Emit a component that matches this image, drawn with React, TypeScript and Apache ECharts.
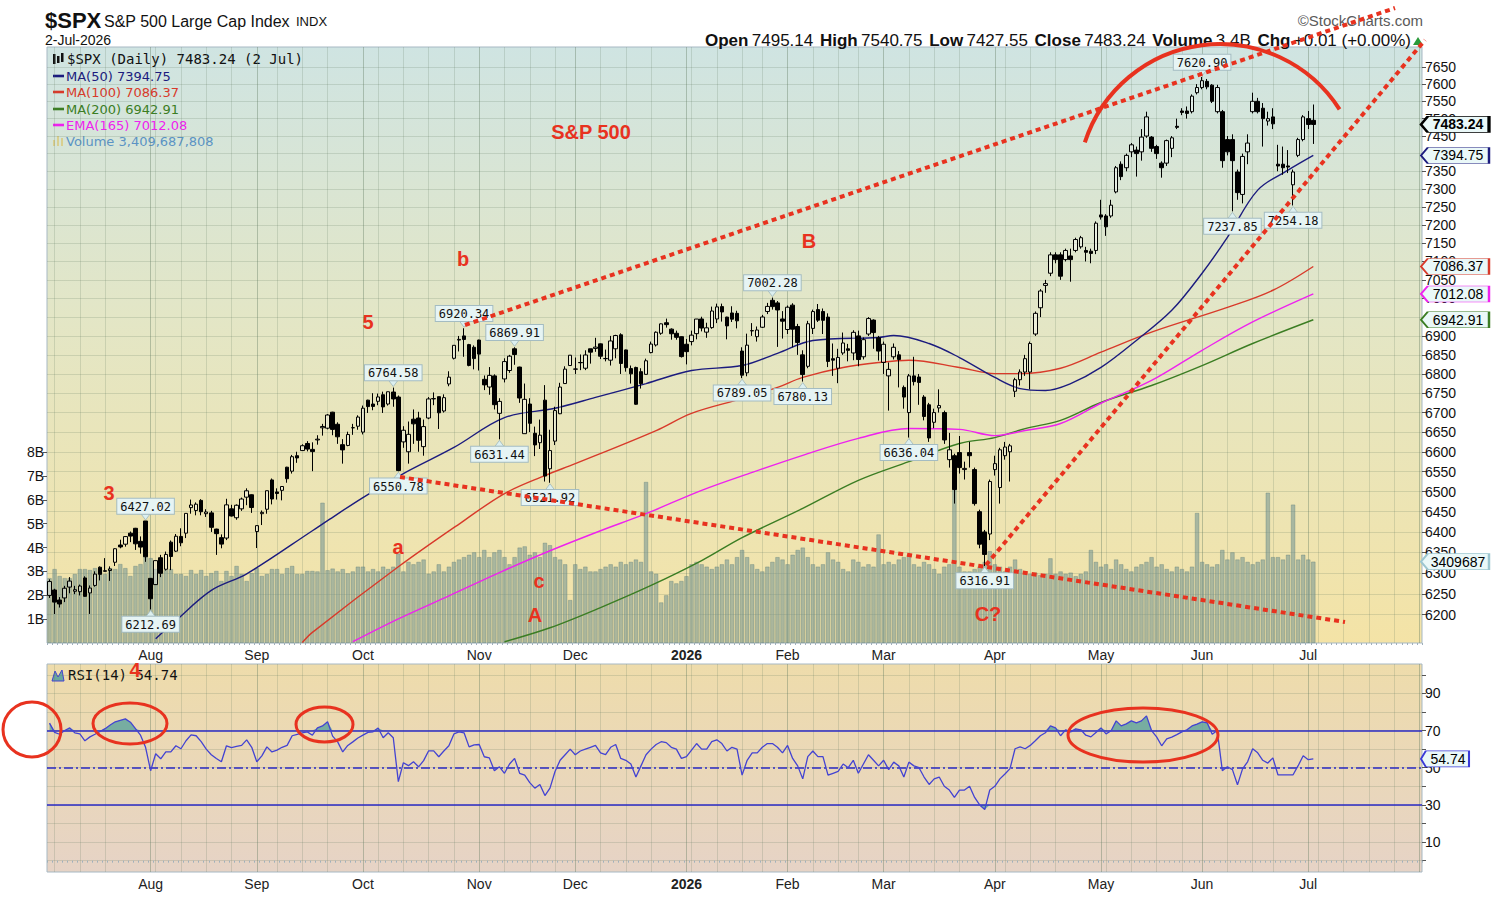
import { useEffect, useRef } from 'react';
import * as echarts from 'echarts';

type Candle = [number, number, number, number]; // open, high, low, close

// ---------- session calendar ----------
const FIRST_SESSION = '2025-07-03';
const LAST_SESSION = '2026-07-02';
const LAST_SLOT = '2026-08-03';
const MARKET_HOLIDAYS = [
  '2025-07-04', '2025-09-01', '2025-11-27', '2025-12-25', '2026-01-01', '2026-01-19',
  '2026-02-16', '2026-04-03', '2026-05-25', '2026-06-19', '2026-07-03',
];
const MONTHS = ['Jan', 'Feb', 'Mar', 'Apr', 'May', 'Jun', 'Jul', 'Aug', 'Sep', 'Oct', 'Nov', 'Dec'];

// ---------- daily candles [open, high, low, close] ----------
const CANDLES_2025_Q3: Candle[] = [
  // Jul
  [6246, 6284.6, 6240, 6279.35], [6259, 6262, 6201.6, 6229.98], [6235, 6242, 6217, 6225.52],
  [6240, 6269, 6230, 6263.26], [6266, 6290, 6251, 6280.46], [6256, 6269, 6249, 6259.75],
  [6255, 6272, 6246, 6268.56], [6288, 6292, 6243, 6243.76], [6252, 6270, 6201.8, 6263.7],
  [6270, 6304, 6267, 6297.36], [6314, 6316, 6282, 6296.79], [6304, 6336, 6303, 6305.6],
  [6306, 6316, 6281, 6309.62], [6326, 6360, 6317, 6358.91], [6368, 6381, 6360, 6363.35],
  [6370, 6390, 6364, 6388.64], [6397, 6401, 6375, 6389.77], [6409, 6410, 6356, 6370.86],
  [6377, 6389, 6347, 6362.9], [6427, 6427.02, 6327, 6339.39],
  // Aug
  [6287, 6288, 6212.69, 6238.01], [6272, 6330, 6271, 6329.94], [6337, 6344, 6290, 6299.19],
  [6309, 6352, 6306, 6345.06], [6375, 6379, 6307, 6340.0], [6353, 6395, 6351, 6389.45],
  [6389, 6409, 6365, 6373.45], [6397, 6446, 6385, 6445.76], [6460, 6480, 6445, 6466.58],
  [6453, 6473, 6441, 6468.54], [6478, 6481, 6441, 6449.8], [6445, 6456, 6437, 6449.15],
  [6447, 6452, 6400, 6411.37], [6407, 6408, 6343.9, 6395.78], [6386, 6394, 6360, 6370.17],
  [6385, 6482, 6380, 6466.91], [6457, 6467, 6438, 6439.32], [6435, 6468, 6430, 6465.94],
  [6457, 6485, 6452, 6481.4], [6486, 6508, 6466, 6501.86], [6492, 6493, 6447, 6460.26],
  // Sep
  [6401, 6416, 6360.6, 6415.54], [6445, 6453, 6417, 6448.26], [6456, 6502, 6445, 6502.08],
  [6529, 6532.65, 6468, 6481.5], [6499, 6508, 6480, 6495.15], [6503, 6513, 6478, 6512.61],
  [6561, 6562, 6522, 6532.04], [6551, 6592, 6545, 6587.47], [6590, 6600, 6572, 6584.29],
  [6603, 6619, 6602, 6615.28], [6621, 6627, 6601, 6606.76], [6606, 6624, 6551, 6600.35],
  [6630, 6642, 6618, 6631.96], [6661, 6671, 6641, 6664.36], [6660, 6696, 6657, 6693.75],
  [6701, 6702, 6642, 6656.92], [6670, 6675, 6620, 6637.97], [6618, 6632, 6570, 6604.72],
  [6616, 6651, 6614, 6643.7], [6661, 6671, 6643, 6661.21], [6665, 6693, 6656, 6688.46],
];

const CANDLES_2025_Q4: Candle[] = [
  // Oct
  [6650, 6718, 6644, 6711.2], [6732, 6733, 6699, 6715.35], [6722, 6750, 6706, 6715.79],
  [6729, 6749, 6719, 6740.28], [6746, 6754, 6699, 6714.59], [6722, 6754, 6718, 6753.72],
  [6753, 6764.58, 6715, 6735.11], [6740, 6744, 6550.78, 6552.51], [6625, 6665, 6610, 6654.72],
  [6600, 6677, 6570, 6644.31], [6683, 6708, 6620, 6671.06], [6686, 6702, 6600, 6629.07],
  [6613, 6682, 6590, 6664.01], [6686, 6740, 6683, 6735.13], [6736, 6752, 6719, 6735.35],
  [6741, 6741, 6658, 6699.4], [6704, 6747, 6700, 6738.44], [6774, 6807, 6768, 6791.69],
  [6841, 6875, 6838, 6875.16], [6889, 6899.9, 6859, 6890.89], [6900, 6920.34, 6845, 6890.59],
  [6877, 6879, 6820, 6822.34], [6870, 6875, 6812, 6840.2],
  // Nov
  [6889, 6890, 6809, 6851.97], [6786, 6796, 6758, 6771.55], [6766, 6818, 6746, 6796.29],
  [6795, 6799, 6708, 6720.32], [6698, 6737, 6631.44, 6728.8], [6787, 6841, 6778, 6832.43],
  [6809, 6850, 6803, 6846.61], [6866, 6869.91, 6824, 6850.92], [6818, 6819, 6725, 6737.49],
  [6646, 6775, 6646, 6734.11], [6722, 6737, 6650, 6672.41], [6647, 6664, 6589, 6617.32],
  [6623, 6682, 6607, 6642.16], [6732, 6771, 6525, 6538.76], [6557, 6656, 6521.92, 6602.99],
  [6627, 6715, 6617, 6705.12], [6697, 6777, 6696, 6765.88], [6775, 6820, 6775, 6812.61],
  [6822, 6849, 6822, 6849.09],
  // Dec
  [6813, 6843, 6800, 6812.63], [6830, 6851, 6810, 6829.37], [6815, 6862, 6810, 6849.72],
  [6866, 6866, 6827, 6857.12], [6867, 6895, 6858, 6870.4], [6879, 6880, 6839, 6846.51],
  [6840, 6864, 6833, 6840.51], [6836, 6900, 6822, 6886.68], [6866, 6903, 6841, 6901.0],
  [6903, 6907, 6800, 6827.41], [6863, 6864, 6806, 6816.51], [6814, 6822, 6775, 6800.26],
  [6817, 6819, 6720, 6721.43], [6806, 6815, 6762, 6774.76], [6799, 6840, 6799, 6834.5],
  [6856, 6885, 6854, 6878.49], [6876, 6912, 6872, 6909.79], [6907, 6933, 6903, 6932.05],
  [6935, 6946, 6922, 6929.94], [6918, 6920, 6890, 6905.74], [6907, 6914, 6890, 6896.24],
  [6898, 6899, 6843, 6845.5],
];

const CANDLES_2026_Q1: Candle[] = [
  // Jan
  [6878, 6892, 6825, 6858.47], [6885, 6914, 6875, 6902.05], [6906, 6945, 6891, 6944.82],
  [6945, 6951, 6912, 6920.93], [6910, 6935, 6895, 6921.46], [6922, 6978, 6919, 6966.28],
  [6945, 6986, 6934, 6977.27], [6978, 6986, 6938, 6963.74], [6950, 6951, 6891, 6926.6],
  [6961, 6979, 6937, 6944.47], [6960, 6967, 6920, 6940.01], [6860, 6870, 6789.05, 6796.86],
  [6803, 6906, 6794, 6875.62], [6914, 6934, 6900, 6913.35], [6898, 6925, 6885, 6915.61],
  [6923, 6956, 6921, 6950.23], [6965, 6988, 6958, 6978.6], [6995, 7002.28, 6970, 6978.03],
  [6988, 6993, 6871, 6969.01], [6945, 6966, 6893, 6939.03],
  // Feb
  [6917, 6981, 6905, 6976.44], [6982, 6987, 6870, 6917.81], [6925, 6932, 6850, 6882.72],
  [6850, 6862, 6780.13, 6798.4], [6820, 6940, 6815, 6932.3], [6920, 6970, 6905, 6964.82],
  [6970, 6985, 6937, 6941.81], [6965, 6973, 6905, 6941.47], [6950, 6960, 6818, 6832.76],
  [6840, 6880, 6795, 6836.17], [6815, 6866, 6776, 6843.22], [6855, 6909, 6850, 6881.31],
  [6866, 6879, 6833, 6861.89], [6855, 6915, 6836, 6909.51], [6900, 6914, 6820, 6837.75],
  [6845, 6896, 6838, 6890.07], [6905, 6950, 6900, 6946.13], [6942, 6944, 6866, 6908.86],
  [6895, 6900, 6835, 6860],
  // Mar
  [6830, 6885, 6800, 6878], [6795, 6830, 6705, 6812], [6845, 6880, 6838, 6870],
  [6850, 6860, 6765, 6838], [6765, 6770, 6710, 6740], [6700, 6800, 6636.04, 6795],
  [6795, 6845, 6770, 6780], [6792, 6800, 6720, 6778], [6740, 6745, 6680, 6690],
  [6720, 6725, 6625, 6635], [6675, 6710, 6660, 6700], [6712, 6760, 6700, 6718],
  [6700, 6705, 6620, 6630], [6580, 6648, 6560, 6605], [6590, 6595, 6470, 6505],
  [6598, 6640, 6545, 6560], [6555, 6575, 6530, 6558], [6598, 6625, 6560, 6590],
  [6555, 6560, 6465, 6470], [6450, 6455, 6360, 6370], [6400, 6405, 6316.91, 6345],
  [6395, 6530, 6380, 6525],
];

const CANDLES_2026_Q2: Candle[] = [
  // Apr
  [6555, 6590, 6540, 6570], [6510, 6610, 6470, 6605], [6590, 6625, 6580, 6612],
  [6600, 6620, 6525, 6615], [6755, 6790, 6740, 6785], [6785, 6812, 6770, 6805],
  [6805, 6850, 6795, 6840], [6805, 6885, 6760, 6880], [6905, 6965, 6900, 6960],
  [6975, 7025, 6950, 7020], [7035, 7050, 7015, 7040], [7068, 7125, 7060, 7118],
  [7118, 7125, 7095, 7105], [7118, 7125, 7050, 7060], [7105, 7135, 7100, 7130],
  [7115, 7135, 7045, 7105], [7130, 7165, 7125, 7160], [7140, 7170, 7135, 7165],
  [7130, 7140, 7100, 7125], [7128, 7135, 7095, 7122], [7130, 7210, 7120, 7205],
  // May
  [7228, 7270, 7215, 7222], [7225, 7230, 7170, 7195], [7225, 7270, 7220, 7255],
  [7292, 7365, 7288, 7360], [7370, 7378, 7325, 7335], [7360, 7400, 7350, 7395],
  [7405, 7430, 7390, 7425], [7410, 7420, 7335, 7400], [7405, 7470, 7380, 7447],
  [7450, 7520, 7445, 7505], [7447, 7450, 7405, 7415], [7420, 7425, 7385, 7400],
  [7373, 7378, 7332, 7360], [7373, 7440, 7365, 7437], [7415, 7450, 7390, 7445],
  [7478, 7500, 7470, 7475], [7522, 7530, 7510, 7518], [7522, 7535, 7500, 7515],
  [7520, 7570, 7515, 7565], [7575, 7600, 7570, 7590],
  // Jun
  [7590, 7620.9, 7585, 7610], [7608, 7615, 7585, 7592], [7597, 7600, 7545, 7550],
  [7520, 7598, 7515, 7590], [7520, 7525, 7360, 7380], [7440, 7450, 7395, 7405],
  [7440, 7455, 7237.85, 7380], [7348, 7355, 7270, 7290], [7285, 7400, 7260, 7392],
  [7405, 7455, 7370, 7430], [7520, 7575, 7515, 7550], [7550, 7560, 7515, 7520],
  [7530, 7545, 7420, 7500], [7493, 7520, 7480, 7500], [7505, 7530, 7470, 7485],
  [7370, 7425, 7350, 7365], [7370, 7420, 7340, 7360], [7365, 7410, 7345, 7362],
  [7312, 7355, 7254.18, 7348], [7395, 7445, 7390, 7440], [7440, 7510, 7435, 7505],
];

const CANDLES_2026_JUL: Candle[] = [
  [7500, 7522, 7470, 7483.23], [7495.14, 7540.75, 7427.55, 7483.24],
];

// ---------- daily volume, billions of shares ----------
const VOLUME_2025_Q3 = [
  2.72, 3.1, 2.81, 2.72, 2.72, 2.89, 3.1, 3.1, 3.06, 3.14,
  3.1, 2.89, 3.14, 3.1, 3.31, 3.14, 2.81, 3.23, 3.31, 3.65,
  3.56, 3.1, 3.02, 3.06, 3.1, 2.89, 2.89, 2.81, 3.06, 2.89,
  3.06, 2.81, 2.93, 3.02, 2.6, 3.02, 2.81, 3.23, 2.89, 2.6,
  2.93, 3.14, 2.81, 2.89, 3.1, 3.1, 2.89, 3.14, 3.23, 2.89,
  2.89, 3.02, 3.02, 3.0, 5.88, 3.05, 3.12, 3.0, 3.1, 2.92,
  3.0, 3.2,
];
const VOLUME_2025_Q4 = [
  3.2, 3.0, 3.1, 3.0, 3.2, 3.1, 3.2, 3.75, 3.0, 3.4,
  3.3, 3.4, 3.5, 2.9, 3.0, 3.3, 3.0, 3.2, 3.4, 3.5,
  3.6, 3.7, 3.8,
  3.6, 3.9, 3.6, 3.8, 3.9, 3.6, 3.3, 3.6, 4.0, 4.05,
  3.7, 3.8, 3.6, 4.2, 4.1, 3.6, 3.5, 3.3, 1.8,
  3.3, 3.1, 3.2, 3.0, 3.0, 3.1, 3.2, 3.3, 3.2, 3.4,
  3.3, 3.4, 3.5, 3.4, 6.75, 3.0, 2.9, 1.7, 2.0, 2.6, 2.5, 2.6,
];
const VOLUME_2026_Q1 = [
  2.8, 3.3, 3.4, 3.3, 3.2, 3.1, 3.2, 3.3, 3.5, 3.3,
  3.6, 3.9, 3.6, 3.3, 3.1, 3.0, 3.2, 3.4, 3.6, 3.5,
  3.3, 3.7, 3.9, 4.0, 3.6, 3.3, 3.2, 3.3, 3.8, 3.5,
  3.4, 3.1, 3.0, 3.5, 3.4, 3.2, 3.3, 3.2, 4.55,
  3.3, 3.4, 3.3, 3.5, 3.6, 3.7, 3.3, 3.2, 3.4, 3.3,
  3.1, 2.9, 3.2, 3.3, 7.0, 3.2, 3.0, 3.0, 3.1, 3.2, 3.4, 3.85,
];
const VOLUME_2026_Q2 = [
  3.3, 3.2, 3.0, 3.2, 3.5, 3.1, 2.9, 2.9, 2.95, 2.85,
  2.9, 3.55, 2.9, 3.0, 2.9, 2.95, 2.8, 2.9, 3.0, 3.9, 3.4,
  3.2, 3.3, 3.1, 3.5, 3.3, 3.1, 3.0, 3.2, 3.3, 3.4,
  3.6, 3.2, 3.3, 3.1, 3.0, 3.2, 3.1, 3.0, 3.2, 5.45,
  3.4, 3.3, 3.2, 3.3, 3.9, 3.5, 3.8, 3.5, 3.6, 3.4,
  3.3, 3.4, 3.5, 6.3, 3.6, 3.6, 3.5, 3.7, 5.8, 3.5, 3.7,
];
const VOLUME_2026_JUL = [3.5, 3.409687808];

// ---------- RSI(14) ----------
const RSI_2025_Q3 = [
  74, 69, 68, 70, 71.4, 68.8, 68.2, 64.5, 66.6, 68,
  69.5, 71, 73, 74.7, 75.5, 76.3, 74.5, 71, 67.5, 61,
  48.4, 57.5, 54.8, 58.5, 58.5, 61.8, 60.2, 64.5, 67.7, 67.2,
  64, 60, 57, 55, 53.2, 61.8, 60.8, 61.5, 62, 65,
  61, 53.2, 56.4, 61.2, 58.5, 59.5, 61, 62, 67.2, 68,
  68.8, 69.3, 67.5, 71.4, 72.5, 74.7, 67, 63.9, 58.5, 62,
  63.9, 66,
];
const RSI_2025_Q4 = [
  67.5, 69, 69.3, 71.4, 66.1, 68.8, 66.1, 42.5,
  52.7, 51.1, 53.2, 50.5, 53.8, 59.1, 59.1, 55.9, 59, 61.8,
  68.2, 69.3, 68.8, 61.2, 62.3, 62.5, 55.9, 55.3, 48.4, 50.5,
  47, 52, 55, 47, 46, 42, 39, 41, 35, 39,
  48, 54, 57, 60, 57, 59, 60, 61, 62, 58,
  57, 61, 62.5, 55, 54, 52, 45, 51, 57, 60,
  62.5, 64, 63.5, 61, 60, 55,
];
const RSI_2026_Q1 = [
  56, 59.5, 63, 60, 60, 64, 65, 63, 59, 61,
  60, 46, 54, 58, 58, 61, 63, 63, 61, 58,
  62, 55, 51, 44, 56, 59, 56, 56, 46, 47,
  48, 52, 50, 54, 47, 52, 57, 54, 51, 54,
  49, 53, 51, 45, 53, 51, 50, 45, 41, 44,
  45, 40, 38, 34, 38, 38, 40, 34, 30, 27.5,
  38,
];
const RSI_2026_Q2 = [
  40, 44, 46.6, 49.5, 60.2, 61.2, 60.2, 62, 64.5, 67.2,
  68.8, 72.5, 71.4, 67.2, 70.4, 69.3, 70.9, 70.4, 67.5, 66.6,
  69, 71.4, 68.2, 69.9, 75.2, 72.5, 73.6, 75.2, 74.1, 75.2,
  77.9, 70, 66.6, 61.8, 65.5, 66.5, 67.8, 69.3, 70.4, 72.5,
  73.5, 74.7, 74.2, 68, 70, 48.4, 50.5, 49, 40.8, 49.4,
  53.2, 60.2, 58, 54, 52.5, 55.3, 46.2, 46.2, 46.2, 46.2,
  51.1, 56.4,
];
const RSI_2026_JUL = [54.3, 54.74];

// ---------- moving averages, [session index, value] ----------
const MA50_POINTS: [number, number][] = [
  [21, 6143], [25, 6186], [32, 6258], [39, 6298], [52, 6403], [55, 6428], [62, 6485],
  [70, 6545], [80, 6611], [90, 6687], [100, 6711], [108, 6739], [118, 6775], [127, 6809],
  [137, 6822], [144, 6854], [151, 6888], [164, 6896], [167, 6901], [174, 6880], [180, 6843],
  [187, 6791], [192, 6762], [197, 6757], [202, 6775], [208, 6817], [215, 6888], [222, 6968],
  [228, 7068], [233, 7166], [239, 7297], [245, 7353], [250, 7394.75],
];
const MA100_POINTS: [number, number][] = [
  [50, 6134], [52, 6158], [69, 6315], [82, 6428], [90, 6495], [98, 6540], [104, 6570],
  [120, 6654], [127, 6698], [137, 6736], [144, 6765], [149, 6791], [157, 6817], [164, 6830],
  [170, 6836], [180, 6817], [187, 6801], [192, 6801], [200, 6815], [208, 6857], [218, 6910],
  [233, 6976], [242, 7022], [250, 7086.37],
];
const MA200_POINTS: [number, number][] = [
  [90, 6136], [99, 6169], [109, 6217], [119, 6270], [129, 6330], [137, 6386], [149, 6458],
  [160, 6528], [170, 6575], [180, 6621], [187, 6636], [193, 6659], [200, 6680], [208, 6726],
  [218, 6770], [228, 6822], [238, 6880], [250, 6942.91],
];
const EMA165_POINTS: [number, number][] = [
  [60, 6136], [69, 6190], [79, 6245], [89, 6301], [99, 6354], [109, 6403], [118, 6445],
  [129, 6503], [139, 6548], [149, 6591], [160, 6634], [170, 6659], [180, 6657], [187, 6641],
  [193, 6654], [200, 6672], [208, 6724], [218, 6783], [228, 6862], [238, 6937], [250, 7012.08],
];

// ---------- swing callouts ----------
const CALLOUTS: [string, 'high' | 'low'][] = [
  ['2025-07-31', 'high'], ['2025-08-01', 'low'], ['2025-10-09', 'high'], ['2025-10-10', 'low'],
  ['2025-10-29', 'high'], ['2025-11-07', 'low'], ['2025-11-12', 'high'], ['2025-11-21', 'low'],
  ['2026-01-20', 'low'], ['2026-01-28', 'high'], ['2026-02-05', 'low'], ['2026-03-09', 'low'],
  ['2026-03-30', 'low'], ['2026-06-01', 'high'], ['2026-06-09', 'low'], ['2026-06-26', 'low'],
];

// ---------- axis ticks ----------
const PRICE_TICKS = [
  6200, 6250, 6300, 6350, 6400, 6450, 6500, 6550, 6600, 6650, 6700, 6750, 6800, 6850, 6900,
  6950, 7000, 7050, 7100, 7150, 7200, 7250, 7300, 7350, 7400, 7450, 7500, 7550, 7600, 7650,
];
const PRICE_MIN = 6133;
const PRICE_MAX = 7709;
const VOLUME_TICKS = [1, 2, 3, 4, 5, 6, 7, 8];
const VOLUME_MAX = 24.98;
const RSI_LABELS = [10, 30, 50, 70, 90];
const RSI_GRID = [0, 10, 20, 30, 40, 50, 60, 70, 80, 90, 100];
const RSI_MIN = -6.1;
const RSI_MAX = 105.8;

// ---------- derived tables ----------
function buildSessions(): string[] {
  const out: string[] = [];
  const off = new Set(MARKET_HOLIDAYS);
  const [y0, m0, d0] = FIRST_SESSION.split('-').map(Number);
  const [y1, m1, d1] = LAST_SLOT.split('-').map(Number);
  const end = Date.UTC(y1, m1 - 1, d1);
  for (let t = Date.UTC(y0, m0 - 1, d0); t <= end; t += 86400000) {
    const d = new Date(t);
    const wd = d.getUTCDay();
    const iso = d.toISOString().slice(0, 10);
    if (wd !== 0 && wd !== 6 && !off.has(iso)) out.push(iso);
  }
  return out;
}

const SESSIONS = buildSessions();
const LAST_IDX = SESSIONS.indexOf(LAST_SESSION);
const CANDLES: Candle[] = [...CANDLES_2025_Q3, ...CANDLES_2025_Q4, ...CANDLES_2026_Q1, ...CANDLES_2026_Q2, ...CANDLES_2026_JUL];
const VOLUME_B = [...VOLUME_2025_Q3, ...VOLUME_2025_Q4, ...VOLUME_2026_Q1, ...VOLUME_2026_Q2, ...VOLUME_2026_JUL];
const RSI = [...RSI_2025_Q3, ...RSI_2025_Q4, ...RSI_2026_Q1, ...RSI_2026_Q2, ...RSI_2026_JUL];

const dow = (d: string) => new Date(d + 'T00:00:00Z').getUTCDay();
const isMonthStart = SESSIONS.map((d, i) => i > 0 && d.slice(0, 7) !== SESSIONS[i - 1].slice(0, 7));
const isWeekStart = SESSIONS.map((d, i) => i > 0 && dow(d) < dow(SESSIONS[i - 1]));
const weekLine = SESSIONS.map((_, i) => {
  if (!isWeekStart[i]) return false;
  for (let j = i; j < SESSIONS.length && (j === i || !isWeekStart[j]); j++) if (isMonthStart[j]) return false;
  return true;
});

// ---------- layout ----------
const GRID_LEFT = 47;
const GRID_WIDTH = 1375;
const MAIN_TOP = 47;
const MAIN_HEIGHT = 596;
const RSI_TOP = 664;
const RSI_HEIGHT = 208;
const TAG_TIP_X = 1421;

const RED = '#e8321f';
const C_MA50 = '#1b1b7e';
const C_MA100 = '#d83a2a';
const C_MA200 = '#3b7d23';
const C_EMA = '#ee22ee';
const C_RSI = '#4343d2';
const WEEK_GRID = 'rgba(95,120,95,0.2)';
const MONTH_GRID = 'rgba(95,120,95,0.38)';
const SANS = "'Liberation Sans', Arial, sans-serif";
const NARROW = "'Liberation Sans Narrow', 'Liberation Sans', Arial, sans-serif";
const MONO = "'DejaVu Sans Mono', monospace";
const VERD = "'DejaVu Sans', Verdana, sans-serif";

const lastX = GRID_LEFT + (LAST_IDX + 0.5) * (GRID_WIDTH / SESSIONS.length);
const TAG_PATH = 'path://M0,8L7,0L70,0L70,16L7,16Z';

function valueTag(y: number, text: string, border: string, width: number, bold = false) {
  return {
    silent: true,
    data: [
      {
        coord: [LAST_IDX, y],
        symbol: TAG_PATH,
        symbolSize: [width, 16],
        symbolKeepAspect: false,
        symbolOffset: [TAG_TIP_X + width / 2 - lastX, 0],
        itemStyle: { color: '#eaf8f8', borderColor: border, borderWidth: bold ? 1.6 : 1.2 },
        label: {
          show: true, position: 'inside', offset: [3, 0], formatter: text,
          color: '#000', fontSize: 14, fontFamily: SANS, fontWeight: bold ? 'bold' : 'normal',
        },
      },
    ],
  };
}

function monthLabel(value: string) {
  const m = Number(value.slice(5, 7));
  return m === 1 ? `{y|${value.slice(0, 4)}}` : MONTHS[m - 1];
}

function buildOption() {
  const ln = Math.log;
  const last = CANDLES[LAST_IDX];
  const prevClose = CANDLES[LAST_IDX - 1][3];
  const chg = last[3] - prevClose;
  const chgPct = (chg / prevClose) * 100;
  const lastVol = VOLUME_B[LAST_IDX];
  const lastRsi = RSI[LAST_IDX];
  const lastOf = (p: [number, number][]) => p[p.length - 1][1];
  const [ly, lm, ld] = LAST_SESSION.split('-').map(Number);
  const dateText = `${ld}-${MONTHS[lm - 1]}-${ly}`;
  const sign = (v: number) => (v >= 0 ? '+' : '') + v.toFixed(2);

  const mainBg = new echarts.graphic.LinearGradient(0, 0, 0, 1, [
    { offset: 0, color: '#cfe4e2' },
    { offset: 0.45, color: '#e3e6c6' },
    { offset: 1, color: '#f4e3a6' },
  ]);
  const rsiBg = new echarts.graphic.LinearGradient(0, 0, 0, 1, [
    { offset: 0, color: '#eedcab' },
    { offset: 1, color: '#e6d3c6' },
  ]);

  const catAxis = (gridIndex: number, labels: boolean, months: boolean) => ({
    type: 'category',
    gridIndex,
    data: SESSIONS,
    boundaryGap: true,
    axisLine: { show: false },
    axisTick: labels ? { show: true, interval: 0, length: 2, lineStyle: { color: '#9fb0bb' } } : { show: false },
    axisLabel: labels
      ? {
          show: true,
          interval: (i: number) => isMonthStart[i] && i <= LAST_IDX,
          formatter: monthLabel,
          fontSize: 14,
          fontFamily: SANS,
          color: '#222',
          margin: 5,
          rich: { y: { fontWeight: 'bold', fontSize: 14, fontFamily: SANS, color: '#222' } },
        }
      : { show: false },
    splitLine: {
      show: true,
      alignWithLabel: true,
      interval: (i: number) => (months ? isMonthStart[i] : weekLine[i]),
      lineStyle: { color: months ? MONTH_GRID : WEEK_GRID, width: 1 },
    },
  });

  const priceTicks = PRICE_TICKS.map((v) => ln(v));

  const maSeries = (name: string, pts: [number, number][], color: string) => ({
    type: 'line',
    name,
    xAxisIndex: 0,
    yAxisIndex: 0,
    data: pts.map(([i, v]) => [i, ln(v)]),
    symbol: 'none',
    smooth: 0.35,
    silent: true,
    z: 3,
    lineStyle: { color, width: 1.4 },
    markPoint: valueTag(ln(lastOf(pts)), lastOf(pts).toFixed(2), color, 68),
  });

  const callouts = CALLOUTS.map(([day, side]) => {
    const i = SESSIONS.indexOf(day);
    const price = side === 'high' ? CANDLES[i][1] : CANDLES[i][2];
    const high = side === 'high';
    return {
      coord: [i, ln(price)],
      symbol: high ? 'path://M0,0L10,0L5,7Z' : 'path://M5,0L10,7L0,7Z',
      symbolSize: [9, 6],
      symbolKeepAspect: false,
      symbolOffset: [0, high ? -4 : 4],
      itemStyle: { color: '#dcefef', borderColor: '#9fb8bc', borderWidth: 0.8 },
      label: {
        show: true,
        position: high ? 'top' : 'bottom',
        distance: 0,
        formatter: price.toFixed(2),
        color: '#111',
        fontSize: 12,
        fontFamily: MONO,
        backgroundColor: '#e6f4f4',
        borderColor: '#a4bcc2',
        borderWidth: 1,
        padding: [2, 3, 1, 3],
      },
    };
  });

  const lastTag = valueTag(ln(last[3]), last[3].toFixed(2), '#000', 68, true);
  lastTag.data.push(...(callouts as any[]));

  const rsiCommon = { xAxisIndex: 1, yAxisIndex: 2, symbol: 'none', silent: true };

  const legendRow = (y: number, color: string, text: string) => [
    { type: 'rect', shape: { x: 53, y: y - 1.3, width: 11, height: 2.6 }, style: { fill: color } },
    { type: 'text', x: 66, y, style: { text, fill: color, fontSize: 13, fontFamily: VERD, verticalAlign: 'middle' } },
  ];

  const redText = (text: string, x: number, y: number) => ({
    type: 'text', x, y, z: 60,
    style: { text, fill: RED, fontSize: 20, fontWeight: 'bold', fontFamily: SANS, align: 'center', verticalAlign: 'middle' },
  });
  const dotted = (x1: number, y1: number, x2: number, y2: number) => ({
    type: 'line', z: 60, shape: { x1, y1, x2, y2 },
    style: { stroke: RED, lineWidth: 4, lineDash: [5, 4] },
  });
  const ring = (cx: number, cy: number, rx: number, ry: number) => ({
    type: 'ellipse', z: 60, shape: { cx, cy, rx, ry },
    style: { stroke: RED, lineWidth: 3, fill: 'none' },
  });

  return {
    animation: false,
    backgroundColor: '#ffffff',
    textStyle: { fontFamily: SANS },
    grid: [
      { left: GRID_LEFT, top: MAIN_TOP, width: GRID_WIDTH, height: MAIN_HEIGHT, show: true, backgroundColor: mainBg, borderColor: '#a7b8c3', borderWidth: 1 },
      { left: GRID_LEFT, top: RSI_TOP, width: GRID_WIDTH, height: RSI_HEIGHT, show: true, backgroundColor: rsiBg, borderColor: '#a7b8c3', borderWidth: 1 },
    ],
    xAxis: [catAxis(0, true, false), catAxis(1, true, false), catAxis(0, false, true), catAxis(1, false, true)],
    yAxis: [
      {
        type: 'value', gridIndex: 0, position: 'right', min: ln(PRICE_MIN), max: ln(PRICE_MAX),
        axisLine: { show: false },
        axisTick: { show: true, length: 4, lineStyle: { color: '#555' }, customValues: priceTicks },
        axisLabel: {
          customValues: priceTicks, margin: 3, fontSize: 14, fontFamily: SANS, color: '#111',
          formatter: (v: number) => String(Math.round(Math.exp(v))),
        },
        splitLine: { show: true, customValues: priceTicks, lineStyle: { color: WEEK_GRID, width: 1 } },
      },
      {
        type: 'value', gridIndex: 0, position: 'left', min: 0, max: VOLUME_MAX,
        axisLine: { show: false },
        axisTick: { show: true, length: 4, lineStyle: { color: '#555' }, customValues: VOLUME_TICKS },
        axisLabel: { customValues: VOLUME_TICKS, margin: 3, fontSize: 14, fontFamily: SANS, color: '#111', formatter: (v: number) => `${v}B` },
        splitLine: { show: false },
      },
      {
        type: 'value', gridIndex: 1, position: 'right', min: RSI_MIN, max: RSI_MAX,
        axisLine: { show: false },
        axisTick: { show: true, length: 4, lineStyle: { color: '#555' }, customValues: RSI_GRID },
        axisLabel: { customValues: RSI_LABELS, margin: 3, fontSize: 14, fontFamily: SANS, color: '#111' },
        splitLine: { show: true, customValues: RSI_GRID, lineStyle: { color: WEEK_GRID, width: 1 } },
      },
    ],
    series: [
      {
        type: 'bar', name: 'Volume', xAxisIndex: 0, yAxisIndex: 1, data: VOLUME_B, silent: true,
        barCategoryGap: '16%', z: 1,
        itemStyle: { color: 'rgba(112,146,146,0.55)', borderColor: 'rgba(84,116,116,0.55)', borderWidth: 0.6 },
        markPoint: valueTag(lastVol, String(Math.floor(lastVol * 1e6)), '#9cc6d0', 68),
      },
      maSeries('MA(200)', MA200_POINTS, C_MA200),
      maSeries('EMA(165)', EMA165_POINTS, C_EMA),
      maSeries('MA(100)', MA100_POINTS, C_MA100),
      maSeries('MA(50)', MA50_POINTS, C_MA50),
      {
        type: 'candlestick', name: '$SPX', xAxisIndex: 0, yAxisIndex: 0, silent: true, z: 4,
        barWidth: 4,
        data: CANDLES.map(([o, h, l, c]) => [ln(o), ln(c), ln(l), ln(h)]),
        itemStyle: { color: 'rgba(255,255,255,0.35)', color0: '#000000', borderColor: '#000000', borderColor0: '#000000', borderWidth: 1 },
        markPoint: lastTag,
      },
      { ...rsiCommon, type: 'line', data: RSI.map(() => 70), stack: 'ob', lineStyle: { opacity: 0 } },
      { ...rsiCommon, type: 'line', data: RSI.map((v) => Math.max(v - 70, 0)), stack: 'ob', lineStyle: { opacity: 0 }, areaStyle: { color: '#6aa79e', opacity: 0.9 } },
      { ...rsiCommon, type: 'line', data: RSI.map((v) => Math.min(v, 30)), stack: 'os', lineStyle: { opacity: 0 } },
      { ...rsiCommon, type: 'line', data: RSI.map((v) => 30 - Math.min(v, 30)), stack: 'os', lineStyle: { opacity: 0 }, areaStyle: { color: '#6aa79e', opacity: 0.9 } },
      {
        ...rsiCommon, type: 'line', name: 'RSI(14)', data: RSI, z: 5,
        lineStyle: { color: C_RSI, width: 1.3 },
        markLine: {
          silent: true, symbol: 'none', label: { show: false },
          lineStyle: { color: '#2a2ac4', width: 1.5, type: 'solid' },
          data: [{ yAxis: 70 }, { yAxis: 30 }, { yAxis: 50, lineStyle: { type: [9, 3, 2, 3], color: '#2a2ac4', width: 1.5 } }],
        },
        markPoint: valueTag(lastRsi, lastRsi.toFixed(2), '#3a3ad8', 48),
      },
    ],
    graphic: [
      // title block
      { type: 'text', x: 45, y: 20, style: { text: '$SPX', fill: '#111', fontSize: 22, fontWeight: 'bold', fontFamily: SANS, verticalAlign: 'middle' } },
      { type: 'text', x: 104, y: 21, style: { text: 'S&P 500 Large Cap Index', fill: '#111', fontSize: 16, fontFamily: SANS, verticalAlign: 'middle' } },
      { type: 'text', x: 296, y: 21, style: { text: 'INDX', fill: '#111', fontSize: 13, fontFamily: SANS, verticalAlign: 'middle' } },
      { type: 'text', x: 45, y: 40, style: { text: dateText, fill: '#111', fontSize: 14, fontFamily: SANS, verticalAlign: 'middle' } },
      { type: 'text', x: 1423, y: 20, style: { text: '©StockCharts.com', fill: '#5a5a5a', fontSize: 15, fontFamily: SANS, align: 'right', verticalAlign: 'middle' } },
      {
        type: 'text', x: 1411, y: 40,
        style: {
          text: `{b|Open} {n|${last[0].toFixed(2)}}  {b|High} {n|${last[1].toFixed(2)}}  {b|Low} {n|${last[2].toFixed(2)}}  {b|Close} {n|${last[3].toFixed(2)}}  {b|Volume} {n|${lastVol.toFixed(1)}B}  {b|Chg} {n|${sign(chg)} (${sign(chgPct)}%)}`,
          align: 'right', verticalAlign: 'middle',
          rich: {
            b: { fontWeight: 'bold', fontSize: 17, fontFamily: NARROW, fill: '#111' },
            n: { fontSize: 17, fontFamily: NARROW, fill: '#111' },
          },
        },
      },
      { type: 'polygon', shape: { points: [[1413, 45], [1423, 45], [1418, 37]] }, style: { fill: '#2a9a3a' } },
      // legend
      { type: 'rect', shape: { x: 53, y: 54, width: 2.5, height: 10 }, style: { fill: '#111' } },
      { type: 'rect', shape: { x: 57, y: 56, width: 2.5, height: 7 }, style: { fill: '#111' } },
      { type: 'rect', shape: { x: 61, y: 53, width: 2.5, height: 9 }, style: { fill: '#111' } },
      { type: 'text', x: 67, y: 59, style: { text: `$SPX (Daily) ${last[3].toFixed(2)} (${ld} ${MONTHS[lm - 1]})`, fill: '#111', fontSize: 14, fontFamily: MONO, verticalAlign: 'middle' } },
      ...legendRow(76, C_MA50, `MA(50) ${lastOf(MA50_POINTS).toFixed(2)}`),
      ...legendRow(92, C_MA100, `MA(100) ${lastOf(MA100_POINTS).toFixed(2)}`),
      ...legendRow(109, C_MA200, `MA(200) ${lastOf(MA200_POINTS).toFixed(2)}`),
      ...legendRow(125, C_EMA, `EMA(165) ${lastOf(EMA165_POINTS).toFixed(2)}`),
      { type: 'rect', shape: { x: 53, y: 140, width: 2, height: 6 }, style: { fill: '#d9cf8f' } },
      { type: 'rect', shape: { x: 57, y: 136, width: 2, height: 10 }, style: { fill: '#d9cf8f' } },
      { type: 'rect', shape: { x: 61, y: 138, width: 2, height: 8 }, style: { fill: '#d9cf8f' } },
      { type: 'text', x: 66, y: 141, style: { text: `Volume ${Math.round(lastVol * 1e9).toLocaleString('en-US')}`, fill: '#5b93c4', fontSize: 13, fontFamily: VERD, verticalAlign: 'middle' } },
      { type: 'polygon', shape: { points: [[52, 681], [55, 671], [58, 677], [62, 670], [64, 681]] }, style: { fill: '#6aa79e', stroke: C_RSI, lineWidth: 1 } },
      { type: 'text', x: 68, y: 675, style: { text: `RSI(14) ${lastRsi.toFixed(2)}`, fill: '#111', fontSize: 14, fontFamily: MONO, verticalAlign: 'middle' } },
      // wave annotations
      redText('S&P 500', 591, 132),
      redText('b', 463, 259),
      redText('5', 368, 322),
      redText('3', 109, 493),
      redText('a', 398, 547),
      redText('c', 539, 581),
      redText('A', 535, 615),
      redText('B', 809, 241),
      redText('C?', 988, 614),
      redText('4', 135, 670),
      dotted(465, 325, 1395, 8),
      dotted(400, 477, 1345, 622),
      dotted(986, 565, 1425, 40),
      {
        type: 'arc', z: 60,
        shape: { cx: 1220, cy: 186, r: 142, startAngle: -2.83, endAngle: -0.57, clockwise: true },
        style: { stroke: RED, lineWidth: 4, fill: 'none' },
      },
      ring(32, 729.5, 29, 27.5),
      ring(130, 723.5, 37, 20.5),
      ring(324.5, 724.5, 28.5, 17.5),
      ring(1143, 735, 75, 27),
    ],
  };
}

export default function App() {
  const ref = useRef<HTMLDivElement>(null);
  useEffect(() => {
    if (!ref.current) return;
    const chart = echarts.init(ref.current, undefined, { renderer: 'svg' });
    chart.setOption(buildOption() as any);
    return () => chart.dispose();
  }, []);
  return (
    <div
      ref={ref}
      style={{ position: 'fixed', left: 0, top: 0, width: 1502, height: 898, background: '#ffffff' }}
    />
  );
}
